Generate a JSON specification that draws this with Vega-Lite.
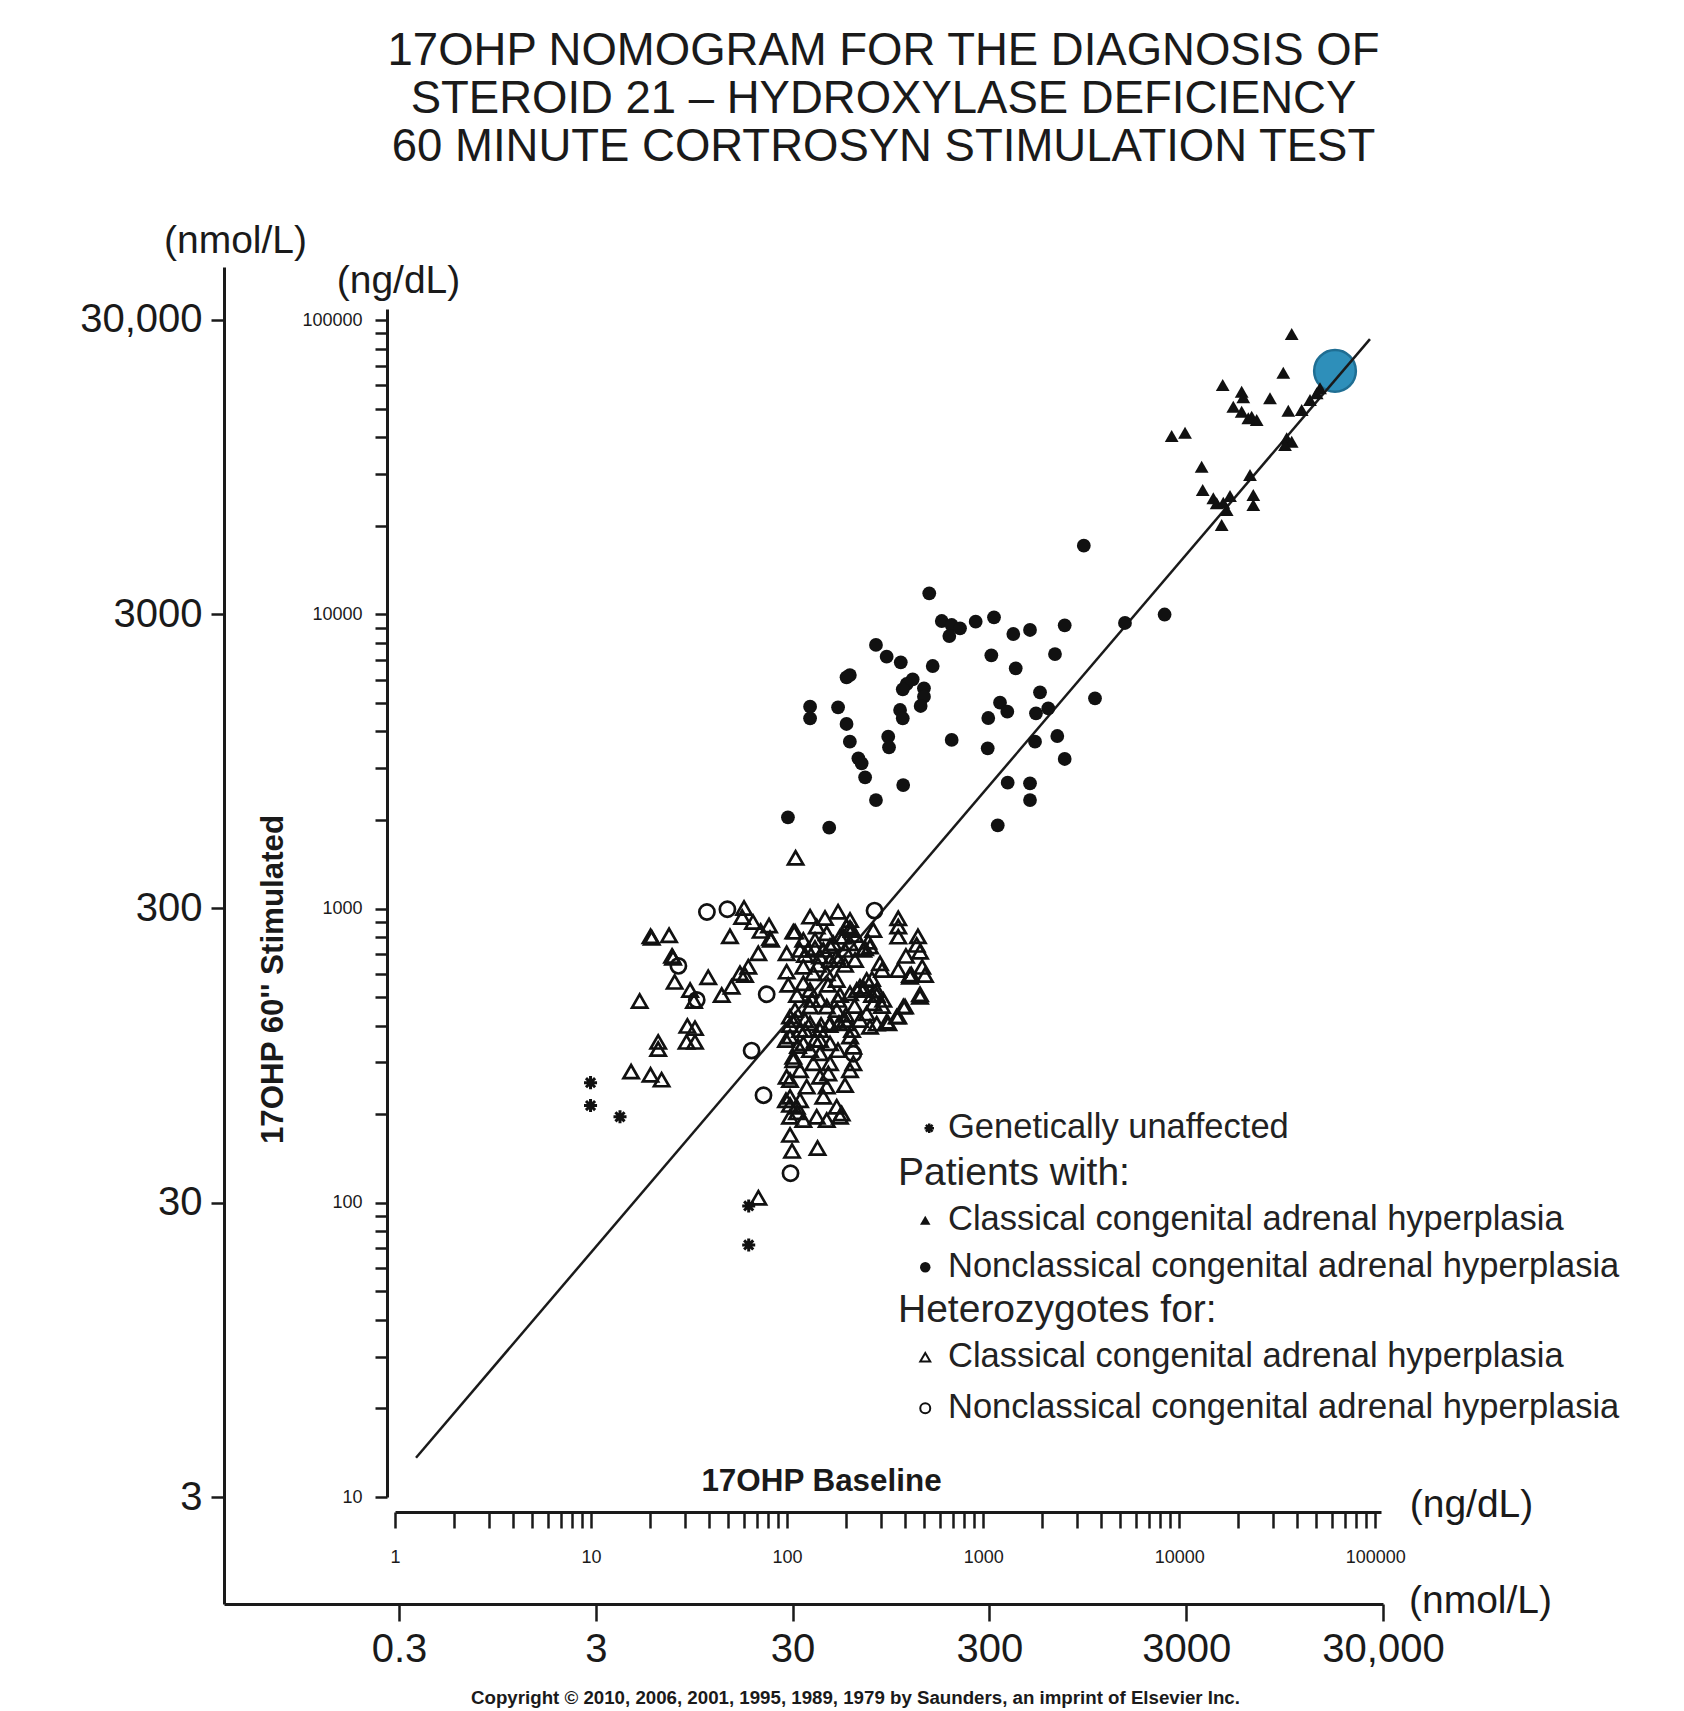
{
  "$schema": "https://vega.github.io/schema/vega-lite/v6.json",
  "width": 1159,
  "height": 1337,
  "autosize": "none",
  "padding": {"left": 224, "top": 267, "right": 301, "bottom": 107},
  "background": "white",
  "config": {
    "view": {"stroke": null},
    "font": "Liberation Sans",
    "axis": {"grid": false, "labelFont": "Liberation Sans", "titleFont": "Liberation Sans", "labelColor": "#1a1a1a", "titleColor": "#1a1a1a", "domainColor": "#1a1a1a", "tickColor": "#1a1a1a", "labelFlush": false, "labelOverlap": false, "titleFontWeight": "normal"},
    "legend": {"padding": 0, "labelFont": "Liberation Sans", "titleFont": "Liberation Sans", "labelColor": "#222222", "titleColor": "#222222", "titleFontWeight": "normal", "direction": "vertical", "titleLimit": 1000, "labelLimit": 1000}
  },
  "title": {
    "text": ["17OHP NOMOGRAM FOR THE DIAGNOSIS OF", "STEROID 21 – HYDROXYLASE DEFICIENCY", "60 MINUTE CORTROSYN STIMULATION TEST"],
    "fontSize": 45.5, "fontWeight": "normal", "font": "Liberation Sans", "color": "#1a1a1a",
    "anchor": "middle", "frame": "group", "dx": 80, "offset": 51, "lineHeight": 48
  },
  "datasets": {
    "patients": [
      {"t": "Nonclassical", "x": 531, "y": 11780},
      {"t": "Nonclassical", "x": 615, "y": 9485},
      {"t": "Nonclassical", "x": 691, "y": 9193},
      {"t": "Nonclassical", "x": 762, "y": 8960},
      {"t": "Nonclassical", "x": 672, "y": 8435},
      {"t": "Nonclassical", "x": 916, "y": 9435},
      {"t": "Nonclassical", "x": 1136, "y": 9765},
      {"t": "Nonclassical", "x": 1425, "y": 8568},
      {"t": "Nonclassical", "x": 1734, "y": 8842},
      {"t": "Nonclassical", "x": 2606, "y": 9171},
      {"t": "Nonclassical", "x": 284, "y": 7863},
      {"t": "Nonclassical", "x": 322, "y": 7174},
      {"t": "Nonclassical", "x": 380, "y": 6866},
      {"t": "Nonclassical", "x": 553, "y": 6670},
      {"t": "Nonclassical", "x": 1101, "y": 7252},
      {"t": "Nonclassical", "x": 2325, "y": 7325},
      {"t": "Nonclassical", "x": 1466, "y": 6551},
      {"t": "Nonclassical", "x": 209, "y": 6216},
      {"t": "Nonclassical", "x": 201, "y": 6105},
      {"t": "Nonclassical", "x": 437, "y": 6010},
      {"t": "Nonclassical", "x": 407, "y": 5794},
      {"t": "Nonclassical", "x": 389, "y": 5559},
      {"t": "Nonclassical", "x": 499, "y": 5602},
      {"t": "Nonclassical", "x": 499, "y": 5247},
      {"t": "Nonclassical", "x": 480, "y": 4878},
      {"t": "Nonclassical", "x": 131, "y": 4851},
      {"t": "Nonclassical", "x": 131, "y": 4430},
      {"t": "Nonclassical", "x": 182, "y": 4829},
      {"t": "Nonclassical", "x": 377, "y": 4727},
      {"t": "Nonclassical", "x": 389, "y": 4430},
      {"t": "Nonclassical", "x": 201, "y": 4237},
      {"t": "Nonclassical", "x": 1950, "y": 5428},
      {"t": "Nonclassical", "x": 3720, "y": 5182},
      {"t": "Nonclassical", "x": 1219, "y": 5006},
      {"t": "Nonclassical", "x": 1328, "y": 4666},
      {"t": "Nonclassical", "x": 1860, "y": 4608},
      {"t": "Nonclassical", "x": 2149, "y": 4791},
      {"t": "Nonclassical", "x": 1062, "y": 4440},
      {"t": "Nonclassical", "x": 209, "y": 3689},
      {"t": "Nonclassical", "x": 328, "y": 3836},
      {"t": "Nonclassical", "x": 331, "y": 3530},
      {"t": "Nonclassical", "x": 691, "y": 3739},
      {"t": "Nonclassical", "x": 1055, "y": 3502},
      {"t": "Nonclassical", "x": 1839, "y": 3689},
      {"t": "Nonclassical", "x": 2389, "y": 3857},
      {"t": "Nonclassical", "x": 2606, "y": 3222},
      {"t": "Nonclassical", "x": 231, "y": 3240},
      {"t": "Nonclassical", "x": 240, "y": 3115},
      {"t": "Nonclassical", "x": 250, "y": 2792},
      {"t": "Nonclassical", "x": 391, "y": 2628},
      {"t": "Nonclassical", "x": 1334, "y": 2676},
      {"t": "Nonclassical", "x": 1734, "y": 2664},
      {"t": "Nonclassical", "x": 1734, "y": 2337},
      {"t": "Nonclassical", "x": 284, "y": 2337},
      {"t": "Nonclassical", "x": 101, "y": 2041},
      {"t": "Nonclassical", "x": 164, "y": 1882},
      {"t": "Nonclassical", "x": 1187, "y": 1918},
      {"t": "Nonclassical", "x": 5290, "y": 9340},
      {"t": "Nonclassical", "x": 8425, "y": 9980},
      {"t": "Nonclassical", "x": 3262, "y": 17100},
      {"t": "Classical", "x": 37490, "y": 89650},
      {"t": "Classical", "x": 33960, "y": 66220},
      {"t": "Classical", "x": 16670, "y": 60140},
      {"t": "Classical", "x": 20830, "y": 57070},
      {"t": "Classical", "x": 29050, "y": 54190},
      {"t": "Classical", "x": 21230, "y": 54610},
      {"t": "Classical", "x": 18880, "y": 50750},
      {"t": "Classical", "x": 20830, "y": 48800},
      {"t": "Classical", "x": 23430, "y": 46930},
      {"t": "Classical", "x": 24850, "y": 45730},
      {"t": "Classical", "x": 22520, "y": 46340},
      {"t": "Classical", "x": 36020, "y": 49180},
      {"t": "Classical", "x": 42150, "y": 49440},
      {"t": "Classical", "x": 46480, "y": 53470},
      {"t": "Classical", "x": 50270, "y": 56350},
      {"t": "Classical", "x": 52260, "y": 58600},
      {"t": "Classical", "x": 9155, "y": 40350},
      {"t": "Classical", "x": 10710, "y": 41400},
      {"t": "Classical", "x": 35340, "y": 39630},
      {"t": "Classical", "x": 37490, "y": 38580},
      {"t": "Classical", "x": 34650, "y": 37600},
      {"t": "Classical", "x": 13020, "y": 31720},
      {"t": "Classical", "x": 22970, "y": 29730},
      {"t": "Classical", "x": 13180, "y": 26440},
      {"t": "Classical", "x": 14930, "y": 24780},
      {"t": "Classical", "x": 16790, "y": 23940},
      {"t": "Classical", "x": 18160, "y": 25230},
      {"t": "Classical", "x": 17470, "y": 22610},
      {"t": "Classical", "x": 23880, "y": 25420},
      {"t": "Classical", "x": 23880, "y": 23510},
      {"t": "Classical", "x": 16470, "y": 20110},
      {"t": "Classical", "x": 15530, "y": 23830}
    ],
    "hets": [
      {"t": "Nonclassical", "x": 39.0, "y": 973},
      {"t": "Nonclassical", "x": 49.6, "y": 994},
      {"t": "Nonclassical", "x": 27.9, "y": 638},
      {"t": "Nonclassical", "x": 34.6, "y": 489},
      {"t": "Nonclassical", "x": 78.7, "y": 511},
      {"t": "Nonclassical", "x": 65.9, "y": 329},
      {"t": "Nonclassical", "x": 75.8, "y": 232},
      {"t": "Nonclassical", "x": 279.2, "y": 984},
      {"t": "Nonclassical", "x": 217.7, "y": 321},
      {"t": "Nonclassical", "x": 104.1, "y": 126},
      {"t": "Classical", "x": 17.7, "y": 485},
      {"t": "Classical", "x": 16.0, "y": 279},
      {"t": "Classical", "x": 20.1, "y": 272},
      {"t": "Classical", "x": 22.9, "y": 262},
      {"t": "Classical", "x": 22.0, "y": 352},
      {"t": "Classical", "x": 22.0, "y": 333},
      {"t": "Classical", "x": 20.1, "y": 804},
      {"t": "Classical", "x": 20.4, "y": 795},
      {"t": "Classical", "x": 25.0, "y": 811},
      {"t": "Classical", "x": 25.9, "y": 690},
      {"t": "Classical", "x": 26.2, "y": 680},
      {"t": "Classical", "x": 26.7, "y": 563},
      {"t": "Classical", "x": 32.0, "y": 528},
      {"t": "Classical", "x": 33.5, "y": 485},
      {"t": "Classical", "x": 31.0, "y": 399},
      {"t": "Classical", "x": 33.9, "y": 352},
      {"t": "Classical", "x": 33.9, "y": 392},
      {"t": "Classical", "x": 30.7, "y": 352},
      {"t": "Classical", "x": 39.6, "y": 584},
      {"t": "Classical", "x": 46.4, "y": 508},
      {"t": "Classical", "x": 52.1, "y": 542},
      {"t": "Classical", "x": 57.5, "y": 602},
      {"t": "Classical", "x": 63.4, "y": 634},
      {"t": "Classical", "x": 71.3, "y": 704},
      {"t": "Classical", "x": 81.8, "y": 792},
      {"t": "Classical", "x": 82.8, "y": 782},
      {"t": "Classical", "x": 60.3, "y": 1004},
      {"t": "Classical", "x": 59.0, "y": 936},
      {"t": "Classical", "x": 67.0, "y": 900},
      {"t": "Classical", "x": 51.1, "y": 804},
      {"t": "Classical", "x": 73.3, "y": 839},
      {"t": "Classical", "x": 80.9, "y": 875},
      {"t": "Classical", "x": 110.5, "y": 1487},
      {"t": "Classical", "x": 71.4, "y": 104},
      {"t": "Classical", "x": 103.5, "y": 170},
      {"t": "Classical", "x": 106, "y": 150},
      {"t": "Classical", "x": 143, "y": 153.5},
      {"t": "Classical", "x": 131, "y": 938},
      {"t": "Classical", "x": 182, "y": 975},
      {"t": "Classical", "x": 107.6, "y": 834},
      {"t": "Classical", "x": 99.5, "y": 704},
      {"t": "Classical", "x": 99.5, "y": 610},
      {"t": "Classical", "x": 101.4, "y": 550},
      {"t": "Classical", "x": 121, "y": 634},
      {"t": "Classical", "x": 121, "y": 782},
      {"t": "Classical", "x": 109.8, "y": 834},
      {"t": "Classical", "x": 141.6, "y": 868},
      {"t": "Classical", "x": 159.3, "y": 824},
      {"t": "Classical", "x": 186.1, "y": 802},
      {"t": "Classical", "x": 209.4, "y": 762},
      {"t": "Classical", "x": 201.3, "y": 868},
      {"t": "Classical", "x": 153, "y": 723},
      {"t": "Classical", "x": 172.1, "y": 762},
      {"t": "Classical", "x": 179.1, "y": 686},
      {"t": "Classical", "x": 193.5, "y": 802},
      {"t": "Classical", "x": 244.7, "y": 723},
      {"t": "Classical", "x": 264.8, "y": 742},
      {"t": "Classical", "x": 297.8, "y": 651},
      {"t": "Classical", "x": 369, "y": 618},
      {"t": "Classical", "x": 423.6, "y": 594},
      {"t": "Classical", "x": 505, "y": 594},
      {"t": "Classical", "x": 476.4, "y": 501},
      {"t": "Classical", "x": 226.5, "y": 528},
      {"t": "Classical", "x": 254.7, "y": 571},
      {"t": "Classical", "x": 286.5, "y": 528},
      {"t": "Classical", "x": 309.6, "y": 489},
      {"t": "Classical", "x": 391.5, "y": 464},
      {"t": "Classical", "x": 362.3, "y": 429},
      {"t": "Classical", "x": 322.2, "y": 412},
      {"t": "Classical", "x": 286.5, "y": 406},
      {"t": "Classical", "x": 254.7, "y": 440},
      {"t": "Classical", "x": 235.4, "y": 418},
      {"t": "Classical", "x": 264.8, "y": 396},
      {"t": "Classical", "x": 201.3, "y": 407},
      {"t": "Classical", "x": 209.4, "y": 367},
      {"t": "Classical", "x": 217.7, "y": 339},
      {"t": "Classical", "x": 217.7, "y": 298},
      {"t": "Classical", "x": 209.4, "y": 282},
      {"t": "Classical", "x": 165.5, "y": 348},
      {"t": "Classical", "x": 147.2, "y": 322},
      {"t": "Classical", "x": 136.1, "y": 298},
      {"t": "Classical", "x": 165.5, "y": 298},
      {"t": "Classical", "x": 103.5, "y": 429},
      {"t": "Classical", "x": 116.4, "y": 386},
      {"t": "Classical", "x": 103.5, "y": 367},
      {"t": "Classical", "x": 121, "y": 348},
      {"t": "Classical", "x": 107.6, "y": 313},
      {"t": "Classical", "x": 116.4, "y": 282},
      {"t": "Classical", "x": 103.5, "y": 261},
      {"t": "Classical", "x": 125.9, "y": 248},
      {"t": "Classical", "x": 147.2, "y": 268},
      {"t": "Classical", "x": 159.3, "y": 248},
      {"t": "Classical", "x": 153, "y": 229},
      {"t": "Classical", "x": 179.1, "y": 212},
      {"t": "Classical", "x": 186.1, "y": 196},
      {"t": "Classical", "x": 103.5, "y": 229},
      {"t": "Classical", "x": 112, "y": 212},
      {"t": "Classical", "x": 103.5, "y": 196},
      {"t": "Classical", "x": 121, "y": 191},
      {"t": "Classical", "x": 141.6, "y": 196},
      {"t": "Classical", "x": 159.3, "y": 191},
      {"t": "Classical", "x": 130.9, "y": 407},
      {"t": "Classical", "x": 147.2, "y": 386},
      {"t": "Classical", "x": 165.5, "y": 407},
      {"t": "Classical", "x": 130.9, "y": 464},
      {"t": "Classical", "x": 159.3, "y": 464},
      {"t": "Classical", "x": 179.1, "y": 452},
      {"t": "Classical", "x": 121, "y": 557},
      {"t": "Classical", "x": 136.1, "y": 602},
      {"t": "Classical", "x": 159.3, "y": 602},
      {"t": "Classical", "x": 179.1, "y": 571},
      {"t": "Classical", "x": 147.2, "y": 686},
      {"t": "Classical", "x": 275.3, "y": 845},
      {"t": "Classical", "x": 249.6, "y": 732},
      {"t": "Classical", "x": 209.4, "y": 914},
      {"t": "Classical", "x": 213.6, "y": 845},
      {"t": "Classical", "x": 259.5, "y": 771},
      {"t": "Classical", "x": 286.5, "y": 508},
      {"t": "Classical", "x": 275.3, "y": 476},
      {"t": "Classical", "x": 209.4, "y": 515},
      {"t": "Classical", "x": 235.4, "y": 542},
      {"t": "Classical", "x": 369, "y": 926},
      {"t": "Classical", "x": 369, "y": 868},
      {"t": "Classical", "x": 369, "y": 802},
      {"t": "Classical", "x": 458.3, "y": 752},
      {"t": "Classical", "x": 476.4, "y": 713},
      {"t": "Classical", "x": 423.6, "y": 586},
      {"t": "Classical", "x": 399.4, "y": 464},
      {"t": "Classical", "x": 369, "y": 429},
      {"t": "Classical", "x": 328.3, "y": 407},
      {"t": "Classical", "x": 464.8, "y": 804},
      {"t": "Classical", "x": 403.7, "y": 690},
      {"t": "Classical", "x": 488.9, "y": 633},
      {"t": "Classical", "x": 430, "y": 596},
      {"t": "Classical", "x": 476.4, "y": 511},
      {"t": "Classical", "x": 304.9, "y": 618},
      {"t": "Classical", "x": 271.1, "y": 576},
      {"t": "Classical", "x": 246.7, "y": 533},
      {"t": "Classical", "x": 221, "y": 466},
      {"t": "Classical", "x": 199.7, "y": 435},
      {"t": "Classical", "x": 184, "y": 408},
      {"t": "Classical", "x": 164.6, "y": 402},
      {"t": "Classical", "x": 149, "y": 402},
      {"t": "Classical", "x": 99.5, "y": 268},
      {"t": "Classical", "x": 107.6, "y": 305},
      {"t": "Classical", "x": 189.8, "y": 201},
      {"t": "Classical", "x": 162.3, "y": 275},
      {"t": "Classical", "x": 138.8, "y": 782},
      {"t": "Classical", "x": 165.5, "y": 668},
      {"t": "Classical", "x": 197.4, "y": 643},
      {"t": "Classical", "x": 130.9, "y": 528},
      {"t": "Classical", "x": 147.2, "y": 489},
      {"t": "Classical", "x": 186.1, "y": 508},
      {"t": "Classical", "x": 222, "y": 668},
      {"t": "Classical", "x": 116.4, "y": 723},
      {"t": "Classical", "x": 138.8, "y": 357},
      {"t": "Classical", "x": 181.8, "y": 330},
      {"t": "Classical", "x": 197.4, "y": 251},
      {"t": "Classical", "x": 127.9, "y": 723},
      {"t": "Classical", "x": 143.8, "y": 643},
      {"t": "Classical", "x": 161.7, "y": 550},
      {"t": "Classical", "x": 134, "y": 489},
      {"t": "Classical", "x": 181.8, "y": 489},
      {"t": "Classical", "x": 123.4, "y": 418},
      {"t": "Classical", "x": 113.7, "y": 341},
      {"t": "Classical", "x": 109.8, "y": 452},
      {"t": "Classical", "x": 197.4, "y": 723},
      {"t": "Classical", "x": 156.1, "y": 928},
      {"t": "Classical", "x": 112.4, "y": 508},
      {"t": "Classical", "x": 98.7, "y": 357},
      {"t": "Classical", "x": 98.7, "y": 223},
      {"t": "Classical", "x": 116.4, "y": 223},
      {"t": "Classical", "x": 123.4, "y": 695},
      {"t": "Classical", "x": 138.8, "y": 734},
      {"t": "Classical", "x": 165.5, "y": 745},
      {"t": "Classical", "x": 181.8, "y": 668},
      {"t": "Classical", "x": 109.8, "y": 418},
      {"t": "Classical", "x": 123.4, "y": 386},
      {"t": "Classical", "x": 103.5, "y": 402},
      {"t": "Classical", "x": 103.5, "y": 215},
      {"t": "Classical", "x": 112.4, "y": 203},
      {"t": "Classical", "x": 197.4, "y": 418},
      {"t": "Classical", "x": 214.4, "y": 386},
      {"t": "Classical", "x": 271.2, "y": 508},
      {"t": "Classical", "x": 305, "y": 466},
      {"t": "Classical", "x": 209.4, "y": 858},
      {"t": "Classical", "x": 222, "y": 813},
      {"t": "Classical", "x": 61, "y": 594},
      {"t": "Classical", "x": 147.2, "y": 357},
      {"t": "Classical", "x": 130.9, "y": 330}
    ],
    "unaffected": [
      {"t": "Genetically unaffected", "x": 9.94, "y": 256},
      {"t": "Genetically unaffected", "x": 9.94, "y": 214},
      {"t": "Genetically unaffected", "x": 14.05, "y": 196},
      {"t": "Genetically unaffected", "x": 63.7, "y": 97.5},
      {"t": "Genetically unaffected", "x": 63.7, "y": 71.9}
    ],
    "diag": [
      {"x": 1.28, "y": 13.6},
      {"x": 94000, "y": 86100}
    ],
    "marker": [
      {"x": 17110, "y": 20130}
    ]
  },
  "layer": [
    {
      "data": {"name": "marker"},
      "mark": {"type": "point", "shape": "circle", "filled": true, "fill": "#2e8fba", "stroke": "#1f6e93", "strokeWidth": 2.5, "size": 1740, "opacity": 1},
      "encoding": {
        "x": {"field": "x", "type": "quantitative",
          "scale": {"type": "log", "domain": [0.03873, 30000], "nice": false},
          "axis": {"orient": "bottom", "values": [0.3, 3, 30, 300, 3000, 30000],
            "labelExpr": "datum.value >= 30000 ? '30,000' : format(datum.value, '~g')",
            "labelFontSize": 40, "labelPadding": 8, "tickSize": 17, "tickWidth": 2.5, "domainWidth": 3,
            "title": "(nmol/L)", "titleFontSize": 39, "titleX": 1256, "titleY": -4, "titleAlign": "center", "titleBaseline": "middle", "titleAngle": 0}},
        "y": {"field": "y", "type": "quantitative",
          "scale": {"type": "log", "domain": [1.2988, 45410], "nice": false},
          "axis": {"orient": "left", "values": [3, 30, 300, 3000, 30000],
            "labelExpr": "datum.value >= 30000 ? '30,000' : format(datum.value, '~g')",
            "labelFontSize": 40, "labelPadding": 9, "tickSize": 13, "tickWidth": 2.5, "domainWidth": 3,
            "title": "(nmol/L)", "titleFontSize": 39, "titleX": 11, "titleY": -27, "titleAlign": "center", "titleBaseline": "middle", "titleAngle": 0}}
      }
    },
    {
      "data": {"name": "diag"},
      "mark": {"type": "line", "color": "#1a1a1a", "strokeWidth": 2.5},
      "encoding": {
        "x": {"field": "x", "type": "quantitative",
          "scale": {"type": "log", "domain": [1, 107000], "range": [171, 1157], "nice": false},
          "axis": {"orient": "bottom", "domain": false, "ticks": false, "labels": false,
            "title": "17OHP Baseline", "titleFontSize": 31.4, "titleFontWeight": "bold", "titleX": 597, "titleY": -123, "titleAlign": "center", "titleBaseline": "middle", "titleAngle": 0}},
        "y": {"field": "y", "type": "quantitative",
          "scale": {"type": "log", "domain": [10, 109000], "range": [1230, 42], "nice": false},
          "axis": {"orient": "left", "domain": false, "ticks": false, "labels": false,
            "title": "17OHP 60'' Stimulated", "titleFontSize": 31.3, "titleFontWeight": "bold", "titleX": 49, "titleY": 712, "titleAlign": "center", "titleBaseline": "middle", "titleAngle": 270}}
      }
    },
    {
      "encoding": {
        "x": {"field": "x", "type": "quantitative",
          "scale": {"type": "log", "domain": [1, 107000], "range": [171, 1157], "nice": false},
          "axis": {"orient": "bottom", "offset": -92,
            "values": [1,2,3,4,5,6,7,8,9,10,20,30,40,50,60,70,80,90,100,200,300,400,500,600,700,800,900,1000,2000,3000,4000,5000,6000,7000,8000,9000,10000,20000,30000,40000,50000,60000,70000,80000,90000,100000],
            "format": "d",
            "labelExpr": "indexof(['1','10','100','1000','10000','100000'], datum.label) >= 0 ? datum.label : ''",
            "labelFontSize": 18, "labelPadding": 20, "tickSize": 16, "tickWidth": 2.5, "domainWidth": 3,
            "title": "(ng/dL)", "titleFontSize": 39, "titleX": 1247, "titleY": -8, "titleAlign": "center", "titleBaseline": "middle", "titleAngle": 0}},
        "y": {"field": "y", "type": "quantitative",
          "scale": {"type": "log", "domain": [10, 109000], "range": [1230, 42], "nice": false},
          "axis": {"orient": "left", "offset": -163,
            "values": [10,20,30,40,50,60,70,80,90,100,200,300,400,500,600,700,800,900,1000,2000,3000,4000,5000,6000,7000,8000,9000,10000,20000,30000,40000,50000,60000,70000,80000,90000,100000],
            "format": "d",
            "labelExpr": "indexof(['10','100','1000','10000','100000'], datum.label) >= 0 ? datum.label : ''",
            "labelFontSize": 18, "labelPadding": 13, "tickSize": 12, "tickWidth": 2.5, "domainWidth": 3,
            "title": "(ng/dL)", "titleFontSize": 39, "titleX": 11, "titleY": 13, "titleAlign": "center", "titleBaseline": "middle", "titleAngle": 0}}
      },
      "layer": [
        {
          "data": {"name": "patients"},
          "mark": {"type": "point", "filled": true, "color": "#111111", "size": 190, "opacity": 1},
          "encoding": {
            "shape": {"field": "t", "type": "nominal",
              "scale": {"domain": ["Classical", "Nonclassical"], "range": ["triangle-up", "circle"]},
              "legend": {"orient": "none", "legendX": 674, "legendY": 887, "title": "Patients with:", "titleFontSize": 39, "titlePadding": 10,
                "labelFontSize": 34.5, "labelOffset": 5.5, "symbolOffset": 10, "symbolSize": 110, "symbolFillColor": "#111111", "symbolStrokeWidth": 0,
                "rowPadding": 12, "labelExpr": "datum.label + ' congenital adrenal hyperplasia'"}}
          }
        },
        {
          "data": {"name": "hets"},
          "mark": {"type": "point", "filled": false, "color": "#111111", "size": 230, "strokeWidth": 2.7, "opacity": 1},
          "encoding": {
            "shape": {"field": "t", "type": "nominal",
              "scale": {"domain": ["Classical", "Nonclassical"], "range": ["triangle-up", "circle"]},
              "legend": {"orient": "none", "legendX": 674, "legendY": 1024, "title": "Heterozygotes for:", "titleFontSize": 39, "titlePadding": 10,
                "labelFontSize": 34.5, "labelOffset": 5.5, "symbolOffset": 10, "symbolSize": 100, "symbolStrokeColor": "#111111", "symbolStrokeWidth": 2,
                "rowPadding": 16, "labelExpr": "datum.label + ' congenital adrenal hyperplasia'"}}
          }
        }
      ],
      "resolve": {"scale": {"shape": "independent"}, "legend": {"shape": "independent"}}
    },
    {
      "data": {"name": "unaffected"},
      "mark": {"type": "point", "filled": false, "color": "#111111", "size": 170, "strokeWidth": 3, "opacity": 1},
      "encoding": {
        "x": {"field": "x", "type": "quantitative",
          "scale": {"type": "log", "domain": [1, 107000], "range": [171, 1157], "nice": false},
          "axis": {"orient": "bottom", "domain": false, "ticks": false, "labels": false,
            "title": "Copyright © 2010, 2006, 2001, 1995, 1989, 1979 by Saunders, an imprint of Elsevier Inc.", "titleFontSize": 18.7, "titleFontWeight": "bold", "titleX": 631, "titleY": 93, "titleAlign": "center", "titleBaseline": "middle", "titleAngle": 0}},
        "y": {"field": "y", "type": "quantitative",
          "scale": {"type": "log", "domain": [10, 109000], "range": [1230, 42], "nice": false},
          "axis": null},
        "shape": {"field": "t", "type": "nominal",
          "scale": {"domain": ["Genetically unaffected"], "range": ["M0,-1L0,1M-1,0L1,0M-0.7,-0.7L0.7,0.7M-0.7,0.7L0.7,-0.7"]},
          "legend": {"orient": "none", "legendX": 688, "legendY": 844, "title": null,
            "labelFontSize": 34.5, "labelOffset": 1.5, "symbolSize": 90, "symbolStrokeColor": "#111111", "symbolStrokeWidth": 2.5}}
      }
    }
  ],
  "resolve": {
    "scale": {"x": "independent", "y": "independent", "shape": "independent"},
    "axis": {"x": "independent", "y": "independent"},
    "legend": {"shape": "independent"}
  }
}
